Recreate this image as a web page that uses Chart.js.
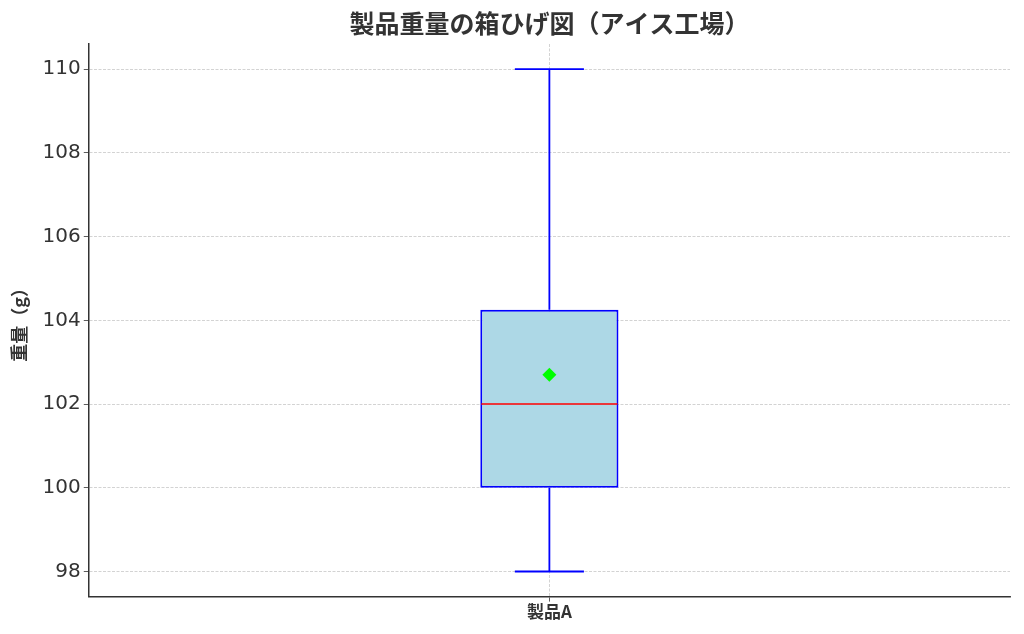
<!DOCTYPE html>
<html>
<head>
<meta charset="utf-8">
<script src="https://cdn.jsdelivr.net/npm/chart.js@4"></script>
<style>
  html, body { margin: 0; padding: 0; background: #fff; }
  #wrap { width: 1024px; height: 634px; }
</style>
</head>
<body>
<div id="wrap"><canvas id="chartBox"></canvas></div>
<script>
// データ
var categories = ['製品A'];
var whiskerLow = [98];
var q1 = [100];
var medians = [102];
var q3 = [104.25];
var whiskerHigh = [110];
var means = [102.7];
var yTicks = [98, 100, 102, 104, 106, 108, 110];

var jpFont = '"Noto Sans CJK JP", "DejaVu Sans", sans-serif';
var numFont = '"DejaVu Sans", sans-serif';

// ひげ・中央値を描くプラグイン
var whiskerPlugin = {
    id: 'whiskers',
    afterDatasetsDraw: function(chart) {
        var meta = chart.getDatasetMeta(1);
        var y = chart.scales.y;
        var ctx = chart.ctx;
        ctx.save();
        meta.data.forEach(function(bar, i) {
            var half = bar.width / 2;
            var cap = half / 2;
            var yLow = y.getPixelForValue(whiskerLow[i]);
            var yQ1 = y.getPixelForValue(q1[i]);
            var yQ3 = y.getPixelForValue(q3[i]);
            var yHigh = y.getPixelForValue(whiskerHigh[i]);
            var yMed = y.getPixelForValue(medians[i]);

            ctx.strokeStyle = '#0000ff';
            ctx.lineWidth = 1.8;
            ctx.beginPath();
            ctx.moveTo(bar.x, yQ1); ctx.lineTo(bar.x, yLow);
            ctx.moveTo(bar.x, yQ3); ctx.lineTo(bar.x, yHigh);
            ctx.moveTo(bar.x - cap, yLow); ctx.lineTo(bar.x + cap, yLow);
            ctx.moveTo(bar.x - cap, yHigh); ctx.lineTo(bar.x + cap, yHigh);
            ctx.stroke();

            ctx.strokeStyle = '#ff0000';
            ctx.lineWidth = 1.6;
            ctx.beginPath();
            ctx.moveTo(bar.x - half + 1, yMed); ctx.lineTo(bar.x + half - 1, yMed);
            ctx.stroke();
        });
        ctx.restore();
    }
};

var boxChart = new Chart(document.getElementById('chartBox'), {
    type: 'bar',
    data: {
        labels: categories,
        datasets: [
            {
                type: 'line',
                label: '平均',
                data: means,
                showLine: false,
                pointStyle: 'rectRot',
                pointRadius: 7,
                pointBackgroundColor: '#00ff00',
                pointBorderWidth: 0,
                order: 0
            },
            {
                label: '箱',
                data: q1.map(function(v, i) { return [v, q3[i]]; }),
                backgroundColor: '#add8e6',
                borderColor: '#0000ff',
                borderWidth: 2,
                borderSkipped: false,
                barPercentage: 0.15,
                categoryPercentage: 1,
                order: 1
            }
        ]
    },
    options: {
        responsive: true,
        maintainAspectRatio: false,
        animation: false,
        layout: { padding: { left: 2, right: 14, top: 0, bottom: 12 } },
        plugins: {
            legend: { display: false },
            tooltip: { enabled: false },
            title: {
                display: true,
                fullSize: false,
                text: '製品重量の箱ひげ図（アイス工場）',
                color: '#333',
                font: { family: jpFont, size: 25, weight: 'bold' },
                padding: { top: 8, bottom: 6 }
            }
        },
        scales: {
            x: {
                offset: true,
                grid: {
                    offset: false,
                    color: '#c8c8c8',
                    lineWidth: 0.8,
                    tickLength: 5,
                    tickColor: '#333',
                    tickBorderDash: []
                },
                border: { color: '#333', width: 1.5, dash: [3, 1.5] },
                ticks: {
                    color: '#333',
                    padding: 0,
                    font: { family: jpFont, size: 17, weight: 'bold' }
                }
            },
            y: {
                min: 97.4,
                max: 110.6,
                afterBuildTicks: function(scale) {
                    scale.ticks = yTicks.map(function(v) { return { value: v }; });
                },
                grid: {
                    color: '#c8c8c8',
                    lineWidth: 0.8,
                    tickLength: 5,
                    tickColor: '#333',
                    tickBorderDash: []
                },
                border: { color: '#333', width: 1.5, dash: [3, 1.5] },
                ticks: {
                    color: '#333',
                    padding: 3,
                    font: { family: numFont, size: 20 }
                },
                title: {
                    display: true,
                    text: '重量（g）',
                    color: '#333',
                    font: { family: jpFont, size: 18, weight: 'bold' },
                    padding: { top: 6, bottom: 10 }
                }
            }
        }
    },
    plugins: [whiskerPlugin]
});
</script>
</body>
</html>
